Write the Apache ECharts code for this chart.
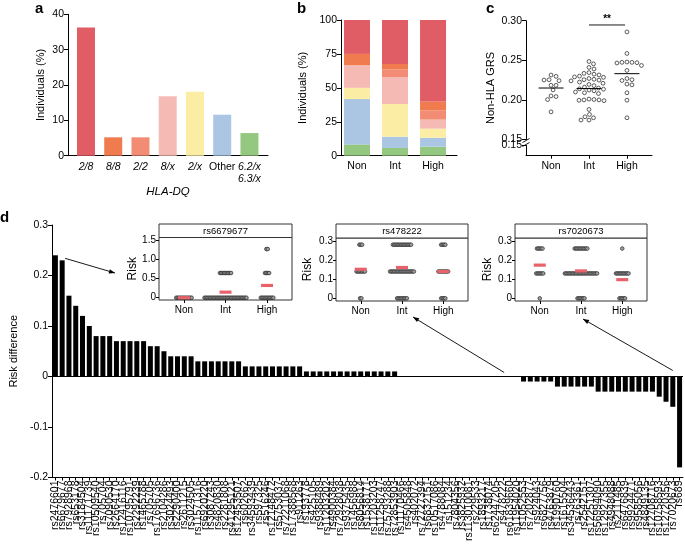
<!DOCTYPE html>
<html>
<head>
<meta charset="utf-8">
<script src="https://cdn.jsdelivr.net/npm/echarts@6.0.0/dist/echarts.min.js"></script>
<style>
html,body{margin:0;padding:0;background:#fff;}
#chart{width:685px;height:544px;}
</style>
</head>
<body>
<div id="chart"></div>
<script>
// ---------------- DATA ----------------
// Panel a: HLA-DQ genotype distribution
const hlaCategories = ['2/8', '8/8', '2/2', '8/x', '2/x', 'Other', '6.2/x\n6.3/x'];
const hlaValues = [36.3, 5.2, 5.2, 16.8, 18.1, 11.6, 6.4];
const hlaColors = ['#e05d66', '#ef7b4f', '#f28c74', '#f5bab3', '#fbeea4', '#aac6e3', '#94c77f'];

// Panel b: genotype share per responder group (Non, Int, High)
const groupNames = ['Non', 'Int', 'High'];
const pct_2_8 = [25.0, 32.4, 60.0];
const pct_8_8 = [8.3, 4.0, 6.7];
const pct_2_2 = [0.0, 5.6, 6.7];
const pct_8_x = [16.7, 19.9, 6.7];
const pct_2_x = [8.3, 24.1, 6.7];
const pct_other = [33.4, 8.3, 6.6];
const pct_62_63 = [8.3, 5.7, 6.6];

// Panel c: non-HLA GRS per individual
const grsNon = [0.2314, 0.2297, 0.2251, 0.2243, 0.2255, 0.2184, 0.2184, 0.2126, 0.2042, 0.2050, 0.2004, 0.1849];
const grsInt = [0.2485, 0.2455, 0.2410, 0.2390,
  0.2345, 0.2335, 0.2325, 0.2315, 0.2300, 0.2290, 0.2285, 0.2270, 0.2260, 0.2255, 0.2250, 0.2240,
  0.2225, 0.2210, 0.2195, 0.2180, 0.2160, 0.2150, 0.2140, 0.2135, 0.2125, 0.2115, 0.2100, 0.2090, 0.2080,
  0.2010, 0.2005, 0.2000, 0.2000, 0.1995, 0.1990,
  0.1879, 0.1816, 0.1787, 0.1774, 0.1745, 0.1745];
const grsHigh = [0.2858, 0.2586, 0.2478, 0.2474, 0.2470, 0.2466, 0.2474, 0.2435, 0.2372, 0.2270, 0.2255,
  0.2245, 0.2200, 0.2190, 0.2090, 0.1996, 0.1774];
const sigLabel = '**';

// Panel d: risk difference per SNP
const snpNames = ['rs2476601','rs6679677','rs7928968','rs653178','rs3184504','rs11171739','rs10509540','rs705704',
  'rs7090530','rs2664170','rs12416116','rs10795791','rs2292239','rs1465788','rs705705','rs17696736','rs2104286',
  'rs3024493','rs2290400','rs2611215','rs3024505','rs11571316','rs6920220','rs3087243','rs4820830','rs2281808',
  'rs41295121','rs12453507','rs602662','rs34593439','rs597325','rs516246','rs12148472','rs5753037','rs72211068',
  'rs17388568','rs911263','rs193778','rs425105','rs9388489','rs11203202','rs4900384','rs72928038','rs9375435',
  'rs1456988','rs8056814','rs1538171','rs11203203','rs11258747','rs75793288','rs72853903','rs11170466','rs4505848',
  'rs402072','rs72727394','rs6832151','rs10517086','rs4788084','rs151234','rs7804356','rs3825932','rs113010081',
  'rs229533','rs1893217','rs1738074','rs62447205','rs478222','rs61839660','rs11954020','rs1052553','rs7202877',
  'rs924043','rs6827756','rs4763879','rs1990760','rs1615504','rs34536443','rs763361','rs2542151','rs12251307',
  'rs56994090','rs12927355','rs4948088','rs2111485','rs6476839','rs9924471','rs9585056','rs4849135','rs12708716',
  'rs10758593','rs12720356','rs7020673','rs689'];
const riskDiff = [0.24,0.23,0.16,0.14,0.12,0.10,0.08,0.08,0.08,0.07,0.07,0.07,0.07,0.07,0.06,0.06,0.05,
  0.04,0.04,0.04,0.04,0.03,0.03,0.03,0.03,0.03,0.03,0.03,0.02,0.02,0.02,0.02,0.02,0.02,0.02,0.02,0.02,
  0.01,0.01,0.01,0.01,0.01,0.01,0.01,0.01,0.01,0.01,0.01,0.01,0.01,0.01,
  0,0,0,0,0,0,0,0,0,0,0,0,0,0,0,0,0,0,
  -0.01,-0.01,-0.01,-0.01,-0.01,-0.02,-0.02,-0.02,-0.02,-0.02,-0.02,
  -0.03,-0.03,-0.03,-0.03,-0.03,-0.03,-0.03,-0.03,-0.03,-0.04,-0.05,-0.06,-0.18];

// Insets: [group (1=Non,2=Int,3=High), risk value, number of individuals]
const insetTitles = ['rs6679677', 'rs478222', 'rs7020673'];
const inset_rs6679677 = [[1,0,12],[2,0,31],[2,0.65,9],[3,0,10],[3,0.65,4],[3,1.28,2]];
const inset_rs478222 = [[1,0.28,3],[1,0.14,7],[1,0,2],[2,0.28,14],[2,0.14,18],[2,0,8],[3,0.28,4],[3,0.14,8],[3,0,4]];
const inset_rs7020673 = [[1,0.26,5],[1,0.13,6],[1,0,1],[2,0.26,10],[2,0.13,24],[2,0,6],[3,0.26,1],[3,0.13,10],[3,0,5]];
const insetTicks = [[0,0.5,1,1.5],[0,0.1,0.2,0.3],[0,0.1,0.2,0.3]];

// ---------------- LAYOUT / STYLE ----------------
const FONT = "'Liberation Sans', Arial, Helvetica, sans-serif";
const BLACK = '#000';
const MEAN_RED = '#e8626b';
const insetBoxes = [
  {left:159, top:237.5, width:133, height:62.5, headTop:224, ymin:-0.06, ymax:1.584, nameGap:20},
  {left:336, top:238, width:132, height:63, headTop:224, ymin:-0.014, ymax:0.315, nameGap:22},
  {left:515, top:238, width:132, height:63, headTop:224, ymin:-0.014, ymax:0.315, nameGap:21}
];

function merge(a, b) {
  const o = Object.assign({}, a);
  for (const k in b) {
    const bv = b[k];
    if (bv && typeof bv === 'object' && !Array.isArray(bv) && a[k] && typeof a[k] === 'object' && !Array.isArray(a[k])) o[k] = merge(a[k], bv);
    else o[k] = bv;
  }
  return o;
}
const axisBase = {
  type: 'value',
  splitLine: {show: false},
  axisLine: {show: true, onZero: false, lineStyle: {color: BLACK, width: 1}},
  axisTick: {show: true, length: 4, lineStyle: {color: BLACK, width: 1}},
  axisLabel: {color: BLACK, fontSize: 10.5, fontFamily: FONT, margin: 4},
  nameTextStyle: {color: BLACK, fontSize: 11, fontFamily: FONT}
};
const ax = (o) => merge(axisBase, o);
const fmt2 = v => v.toFixed(2);
const fmtRisk = v => (Math.abs(v) < 1e-9 ? '0' : v.toFixed(1));

function hlaFormatter(v) {
  const name = hlaCategories[Math.round(v)];
  if (name === 'Other') return name;
  return name.split('\n').map(s => '{i|' + s + '}').join('\n');
}

const meanOf = arr => arr.reduce((s, v) => s + v, 0) / arr.length;

function insetMeans(data) {
  const res = [];
  [1,2,3].forEach(g => {
    let s = 0, n = 0;
    data.forEach(d => { if (d[0] === g) { s += d[1] * d[2]; n += d[2]; } });
    res.push([g, s / n]);
  });
  return res;
}

const grids = [
  {left:68, top:14.3, width:200, height:141.4},
  {left:341, top:20, width:116, height:135.7},
  {left:526, top:20.7, width:126, height:118.8},
  {left:526, top:145.5, width:126, height:10.2},
  {left:37, top:225, width:646, height:258}
];
insetBoxes.forEach(b => grids.push({left:b.left, top:b.top, width:b.width, height:b.height, show:true, borderColor:'#333', borderWidth:1, backgroundColor:'#fff'}));

const xAxes = [
  ax({gridIndex:0, min:-0.66, max:6.68, axisTick:{show:false},
      axisLabel:{customValues:[0,1,2,3,4,5,6], formatter:hlaFormatter, margin:5, lineHeight:12,
        rich:{i:{fontStyle:'italic', fontSize:10.5, fontFamily:FONT, color:BLACK, lineHeight:12}}},
      name:'HLA-DQ', nameLocation:'middle', nameGap:27, nameTextStyle:{fontStyle:'italic', fontSize:11.5}}),
  ax({gridIndex:1, min:-0.42, max:2.63, axisTick:{show:false},
      axisLabel:{customValues:[0,1,2], formatter:v => groupNames[Math.round(v)], margin:5}}),
  ax({gridIndex:2, min:-0.66, max:2.66, show:false}),
  ax({gridIndex:3, min:-0.66, max:2.66, axisTick:{customValues:[0,1,2], length:3},
      axisLabel:{customValues:[0,1,2], formatter:v => groupNames[Math.round(v)], margin:5}}),
  {type:'category', gridIndex:4, data:snpNames,
   axisLine:{show:true, onZero:false, lineStyle:{color:BLACK, width:1}},
   axisTick:{show:true, alignWithLabel:true, interval:0, length:3, lineStyle:{color:BLACK}},
   axisLabel:{interval:0, rotate:90, fontSize:10.5, fontFamily:FONT, color:BLACK, margin:3}, splitLine:{show:false}}
];
insetBoxes.forEach((b, i) => xAxes.push(ax({gridIndex:5+i, min:0.4, max:3.6, axisLine:{show:false},
  axisTick:{customValues:[1,2,3], length:3}, axisLabel:{customValues:[1,2,3], formatter:v => groupNames[Math.round(v)-1], fontSize:10, margin:5}})));

const yAxes = [
  ax({gridIndex:0, min:0, max:40, interval:10, name:'Individuals (%)', nameLocation:'middle', nameGap:22}),
  ax({gridIndex:1, min:0, max:100, interval:25, name:'Individuals (%)', nameLocation:'middle', nameGap:33}),
  ax({gridIndex:2, min:0.15, max:0.30, interval:0.05, axisLabel:{formatter:fmt2}}),
  ax({gridIndex:3, min:0, max:0.15, interval:0.15, axisLabel:{formatter:v => (v === 0 ? '0' : v.toFixed(2))}}),
  ax({gridIndex:4, min:-0.2, max:0.3, interval:0.1, axisLabel:{formatter:fmtRisk}, name:'Risk difference', nameLocation:'middle', nameGap:20})
];
insetBoxes.forEach((b, i) => yAxes.push(ax({gridIndex:5+i, min:b.ymin, max:b.ymax, axisLine:{show:false},
  axisTick:{customValues:insetTicks[i], length:3}, axisLabel:{customValues:insetTicks[i], formatter:fmtRisk, fontSize:10, margin:3},
  name:'Risk', nameLocation:'middle', nameGap:b.nameGap, nameTextStyle:{fontSize:12}})));

const series = [];
// panel a
series.push({type:'bar', xAxisIndex:0, yAxisIndex:0, barWidth:18,
  data: hlaValues.map((v, i) => ({value:[i, v], itemStyle:{color:hlaColors[i]}}))});
// panel b: stacked segments (bottom to top), drawn as rectangles through the axes
const stackLayers = [[pct_62_63, hlaColors[6]], [pct_other, hlaColors[5]], [pct_2_x, hlaColors[4]], [pct_8_x, hlaColors[3]],
  [pct_2_2, hlaColors[2]], [pct_8_8, hlaColors[1]], [pct_2_8, hlaColors[0]]];
const stackData = [];
const cum = [0, 0, 0];
stackLayers.forEach(([arr, col], li) => {
  arr.forEach((v, g) => { stackData.push([g, cum[g], cum[g] + v, li]); cum[g] += v; });
});
series.push({type:'custom', xAxisIndex:1, yAxisIndex:1, data:stackData,
  encode:{x:0, y:[1,2]},
  renderItem:(params, api) => {
    const lo = api.coord([api.value(0), api.value(1)]);
    const hi = api.coord([api.value(0), api.value(2)]);
    return {type:'rect', shape:{x:lo[0] - 13, y:hi[1], width:26, height:lo[1] - hi[1]},
      style:{fill:stackLayers[api.value(3)][1]}};
  }});
// panel c dots (x offsets filled after layout)
series.push({id:'cdots', type:'custom', xAxisIndex:2, yAxisIndex:2, z:5, data:[],
  renderItem:(params, api) => {
    const p = api.coord([api.value(0), api.value(1)]);
    return {type:'circle', shape:{cx:p[0] + api.value(2), cy:p[1], r:1.9}, style:{fill:'#fff', stroke:'#333', lineWidth:0.8}};
  }});
series.push({type:'custom', xAxisIndex:2, yAxisIndex:2, z:6,
  data:[[0, meanOf(grsNon)], [1, meanOf(grsInt)], [2, meanOf(grsHigh)]],
  renderItem:(params, api) => {
    const p = api.coord([api.value(0), api.value(1)]);
    return {type:'line', shape:{x1:p[0]-12.5, y1:p[1], x2:p[0]+12.5, y2:p[1]}, style:{stroke:'#000', lineWidth:1}};
  }});
// panel d
series.push({type:'bar', xAxisIndex:4, yAxisIndex:4, barWidth:5, itemStyle:{color:'#000'}, data:riskDiff,
  markLine:{silent:true, symbol:['none','none'], label:{show:false}, lineStyle:{color:'#000', width:1, type:'solid'}, data:[{yAxis:0}]}});
// insets
[inset_rs6679677, inset_rs478222, inset_rs7020673].forEach((d, i) => {
  series.push({type:'custom', xAxisIndex:5+i, yAxisIndex:5+i, z:5, data:d,
    renderItem:(params, api) => {
      const p = api.coord([api.value(0), api.value(1)]);
      const n = api.value(2), sp = 1.4, ch = [];
      for (let k = 0; k < n; k++) ch.push({type:'circle', shape:{cx:p[0] + (k - (n - 1) / 2) * sp, cy:p[1], r:1.8},
        style:{fill:'#a0a0a0', stroke:'#222', lineWidth:0.7}});
      return {type:'group', children:ch};
    }});
  series.push({type:'scatter', xAxisIndex:5+i, yAxisIndex:5+i, z:8, symbol:'rect', symbolSize:[12, 3.2],
    itemStyle:{color:MEAN_RED, opacity:1}, data:insetMeans(d)});
});

const option = {
  animation:false, backgroundColor:'#fff',
  textStyle:{fontFamily:FONT},
  grid:grids, xAxis:xAxes, yAxis:yAxes, series:series
};

const chart = echarts.init(document.getElementById('chart'));
chart.setOption(option);

// ---- beeswarm layout for panel c ----
const cData = [];
[grsNon, grsInt, grsHigh].forEach((arr, g) => {
  const pts = arr.map(v => ({v, py: chart.convertToPixel({xAxisIndex:2, yAxisIndex:2}, [g, v])[1]}));
  pts.sort((a, b) => a.py - b.py);
  const placed = [], D = 5.0;
  pts.forEach(p => {
    let dx = 0;
    for (let k = 0; k < 400; k++) {
      const off = (k % 2 ? 1 : -1) * Math.ceil(k / 2) * 0.5;
      if (placed.every(q => Math.hypot(q.dx - off, q.py - p.py) >= D)) { dx = off; break; }
    }
    placed.push({dx, py:p.py});
    cData.push([g, p.v, dx]);
  });
});

// ---- annotations ----
const gfx = [];
const txt = (x, y, s, extra) => gfx.push({type:'text', x, y, silent:true, style:Object.assign({text:s, fill:'#000', fontFamily:FONT, fontSize:11}, extra || {})});
const seg = (x1, y1, x2, y2, w) => gfx.push({type:'line', silent:true, shape:{x1, y1, x2, y2}, style:{stroke:'#000', lineWidth:w || 1}});
function arrow(p0, p1) {
  seg(p0[0], p0[1], p1[0], p1[1], 0.9);
  const ang = Math.atan2(p1[1] - p0[1], p1[0] - p0[0]), L = 6, W = 2.2;
  const bx = p1[0] - L * Math.cos(ang), by = p1[1] - L * Math.sin(ang);
  gfx.push({type:'polygon', silent:true, shape:{points:[[p1[0], p1[1]],
    [bx + W * Math.sin(ang), by - W * Math.cos(ang)], [bx - W * Math.sin(ang), by + W * Math.cos(ang)]]}, style:{fill:'#000'}});
}
// panel letters
txt(35, 16.5, 'a', {fontSize:15, fontWeight:'bold', verticalAlign:'bottom'});
txt(297, 16.5, 'b', {fontSize:15, fontWeight:'bold', verticalAlign:'bottom'});
txt(486, 16.5, 'c', {fontSize:15, fontWeight:'bold', verticalAlign:'bottom'});
txt(0, 225.5, 'd', {fontSize:15, fontWeight:'bold', verticalAlign:'bottom'});
// panel c y title
gfx.push({type:'text', x:491, y:88, rotation:Math.PI / 2, silent:true,
  style:{text:'Non-HLA GRS', fill:'#000', fontFamily:FONT, fontSize:11, align:'center', verticalAlign:'middle'}});
// axis break marks
seg(522.5, 142.5, 529.5, 138.5, 0.9);
seg(522.5, 146.5, 529.5, 142.5, 0.9);
// significance bracket
const sI = chart.convertToPixel({xAxisIndex:2, yAxisIndex:2}, [1, 0.2946]);
const sH = chart.convertToPixel({xAxisIndex:2, yAxisIndex:2}, [1.95, 0.2946]);
seg(sI[0], sI[1], sH[0], sH[1], 0.9);
txt((sI[0] + sH[0]) / 2, sI[1] - 1, sigLabel, {fontSize:10, fontWeight:'bold', align:'center', verticalAlign:'bottom'});
// inset headers
insetBoxes.forEach((b, i) => {
  gfx.push({type:'rect', silent:true, shape:{x:b.left, y:b.headTop, width:b.width, height:b.top - b.headTop},
    style:{fill:'#fff', stroke:'#333', lineWidth:1}});
  txt(b.left + b.width / 2, (b.headTop + b.top) / 2 + 0.5, insetTitles[i], {fontSize:9.5, align:'center', verticalAlign:'middle'});
});
// arrows from bars to insets
const dP = (i, v) => chart.convertToPixel({xAxisIndex:4, yAxisIndex:4}, [snpNames[i], v]);
const b1 = dP(snpNames.indexOf('rs6679677'), riskDiff[snpNames.indexOf('rs6679677')]);
arrow([b1[0] + 3, b1[1] - 2], [insetBoxes[0].left - 44, insetBoxes[0].top + 35.5]);
const b2 = dP(snpNames.indexOf('rs478222'), 0);
const t2 = chart.convertToPixel({xAxisIndex:6, yAxisIndex:6}, [2, insetBoxes[1].ymin]);
arrow([b2[0] + 1, b2[1] - 4], [t2[0] + 11, t2[1] + 16]);
const b3 = dP(snpNames.indexOf('rs7020673'), 0);
const t3 = chart.convertToPixel({xAxisIndex:7, yAxisIndex:7}, [2, insetBoxes[2].ymin]);
arrow([b3[0], b3[1] - 6], [t3[0] + 2, t3[1] + 18]);

chart.setOption({series:[{id:'cdots', data:cData}], graphic:gfx});
</script>
</body>
</html>
